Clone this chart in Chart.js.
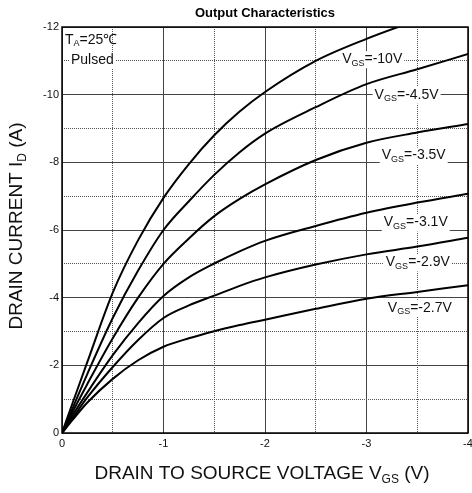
<!DOCTYPE html>
<html>
<head>
<meta charset="utf-8">
<script src="https://cdn.jsdelivr.net/npm/chart.js@4/dist/chart.umd.min.js"></script>
<style>
html, body { margin: 0; padding: 0; background: #fff; }
#wrap { width: 472px; height: 493px; }
</style>
</head>
<body>
<div id="wrap"><canvas id="chart"></canvas></div>
<script>
// Drain-source voltage (V) sample points
const vds = [0, -0.1, -0.25, -0.5, -0.75, -1, -1.25, -1.5, -1.75, -2, -2.5, -3, -3.5, -4];

// Drain current (A) for each gate voltage
const id_10   = [0, -0.85, -2.1, -4.15, -5.7, -6.95, -7.95, -8.8, -9.5, -10.08, -11.0, -11.65, -12.2, -12.7];
const id_4_5  = [0, -0.7, -1.75, -3.4, -4.8, -6.0, -6.85, -7.63, -8.3, -8.85, -9.63, -10.31, -10.75, -11.2];
const id_3_5  = [0, -0.6, -1.45, -2.8, -4.0, -5.0, -5.75, -6.41, -6.92, -7.35, -8.07, -8.58, -8.88, -9.13];
const id_3_1  = [0, -0.5, -1.2, -2.3, -3.25, -4.05, -4.6, -5.01, -5.37, -5.68, -6.12, -6.51, -6.81, -7.07];
const id_2_9  = [0, -0.42, -1.05, -1.95, -2.75, -3.4, -3.77, -4.06, -4.35, -4.6, -4.98, -5.28, -5.51, -5.77];
const id_2_7  = [0, -0.37, -0.9, -1.6, -2.15, -2.55, -2.8, -3.01, -3.19, -3.35, -3.67, -3.97, -4.17, -4.37];

const vgsNames = ['-10V', '-4.5V', '-3.5V', '-3.1V', '-2.9V', '-2.7V'];

const xTickLabels = ['0', '-1', '-2', '-3', '-4'];
const yTickLabels = ['0', '-2', '-4', '-6', '-8', '-10', '-12'];

const FONT = '"Liberation Sans", Arial, Helvetica, sans-serif';

function curve(ids) {
  return {
    data: vds.map((v, i) => ({ x: v, y: ids[i] })),
    borderColor: '#000',
    borderWidth: 2,
    pointRadius: 0,
    fill: false,
    cubicInterpolationMode: 'monotone',
    clip: 0
  };
}

// text with subscript pieces: [text, size, dy]
function drawParts(ctx, x, y, parts, bg) {
  let w = 0;
  parts.forEach(p => {
    ctx.font = p[1] + 'px ' + FONT;
    w += ctx.measureText(p[0]).width;
  });
  if (bg) {
    ctx.fillStyle = '#fff';
    ctx.fillRect(x - 2, y - 8, w + 4, 17);
  }
  ctx.fillStyle = '#111';
  ctx.textBaseline = 'middle';
  ctx.textAlign = 'left';
  let cx = x;
  parts.forEach(p => {
    ctx.font = p[1] + 'px ' + FONT;
    ctx.fillText(p[0], cx, y + p[2]);
    cx += ctx.measureText(p[0]).width;
  });
  return w;
}

function partsWidth(ctx, parts) {
  let w = 0;
  parts.forEach(p => { ctx.font = p[1] + 'px ' + FONT; w += ctx.measureText(p[0]).width; });
  return w;
}

// label anchors in data units (left edge, centre line)
const labelAt = [[-2.76, -11.05], [-3.08, -10.0], [-3.15, -8.2], [-3.17, -6.22], [-3.19, -5.04], [-3.21, -3.7]];

const annotations = {
  id: 'annotations',
  afterDatasetsDraw(chart) {
    const ctx = chart.ctx;
    const xs = chart.scales.x, ys = chart.scales.y;
    ctx.save();
    vgsNames.forEach((name, i) => {
      const px = xs.getPixelForValue(labelAt[i][0]);
      const py = ys.getPixelForValue(labelAt[i][1]);
      drawParts(ctx, px, py, [['V', 14, 0], ['GS', 9, 4], ['=' + name, 14, 0]], true);
    });
    drawParts(ctx, 65, 40, [['T', 14, 0], ['A', 9, 4], ['=25\u2103', 14, 0]], false);
    drawParts(ctx, 71, 60, [['Pulsed', 14, 0]], true);
    ctx.restore();
  },
  afterDraw(chart) {
    const ctx = chart.ctx;
    const a = chart.chartArea;
    ctx.save();
    ctx.strokeStyle = '#000';
    ctx.lineWidth = 1.5;
    ctx.strokeRect(a.left, a.top, a.right - a.left, a.bottom - a.top);

    // title
    ctx.fillStyle = '#000';
    ctx.font = 'bold 13px ' + FONT;
    ctx.textAlign = 'center';
    ctx.textBaseline = 'middle';
    ctx.fillText('Output Characteristics', (a.left + a.right) / 2, 13);

    // x axis title
    const xParts = [['DRAIN TO SOURCE VOLTAGE V', 19, 0], ['GS', 12, 6], [' (V)', 19, 0]];
    drawParts(ctx, 262 - partsWidth(ctx, xParts) / 2, 474, xParts, false);

    // y axis title
    ctx.translate(17, 226);
    ctx.rotate(-Math.PI / 2);
    const yParts = [['DRAIN CURRENT I', 19, 0], ['D', 12, 6], [' (A)', 19, 0]];
    drawParts(ctx, -partsWidth(ctx, yParts) / 2, 0, yParts, false);
    ctx.restore();
  }
};

new Chart(document.querySelector('#chart'), {
  type: 'line',
  data: {
    datasets: [curve(id_10), curve(id_4_5), curve(id_3_5), curve(id_3_1), curve(id_2_9), curve(id_2_7)]
  },
  options: {
    responsive: true,
    maintainAspectRatio: false,
    animation: false,
    layout: { padding: { top: 27, right: 4, left: 0, bottom: 0 } },
    plugins: {
      legend: { display: false },
      tooltip: { enabled: false },
      title: { display: false }
    },
    scales: {
      x: {
        type: 'linear',
        min: -4,
        max: 0,
        reverse: true,
        afterFit: s => { s.height = 60; s.paddingLeft = 0; s.paddingRight = 0; },
        ticks: {
          stepSize: 0.5,
          autoSkip: false,
          maxRotation: 0,
          padding: 4,
          color: '#111',
          font: { family: FONT, size: 11 },
          callback: v => Number.isInteger(v) ? xTickLabels[-v] : ''
        },
        grid: {
          drawTicks: false,
          lineWidth: 1,
          color: ctx => (ctx.tick && Number.isInteger(ctx.tick.value)) ? '#444' : '#555'
        },
        border: {
          display: false,
          dash: ctx => (ctx.tick && !Number.isInteger(ctx.tick.value)) ? [1, 1] : []
        }
      },
      y: {
        type: 'linear',
        min: -12,
        max: 0,
        reverse: true,
        afterFit: s => { s.width = 62; s.paddingTop = 0; s.paddingBottom = 0; },
        ticks: {
          stepSize: 1,
          autoSkip: false,
          padding: 3,
          color: '#111',
          font: { family: FONT, size: 11 },
          callback: v => (v % 2 === 0) ? yTickLabels[-v / 2] : ''
        },
        grid: {
          drawTicks: false,
          lineWidth: 1,
          color: ctx => (ctx.tick && ctx.tick.value % 2 === 0) ? '#444' : '#555'
        },
        border: {
          display: false,
          dash: ctx => (ctx.tick && ctx.tick.value % 2 !== 0) ? [1, 1] : []
        }
      }
    }
  },
  plugins: [annotations]
});
</script>
</body>
</html>
